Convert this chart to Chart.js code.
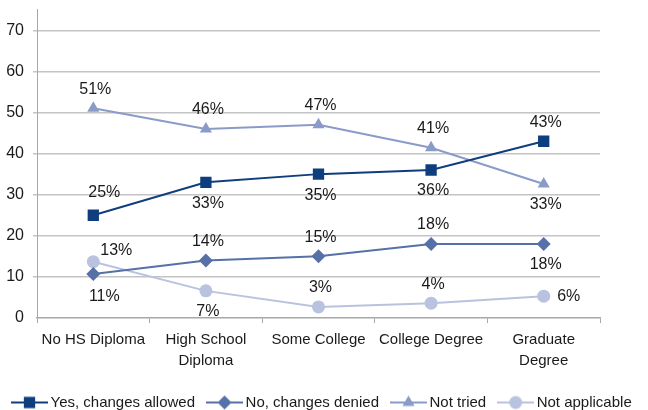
<!DOCTYPE html>
<html>
<head>
<meta charset="utf-8">
<script src="https://cdn.jsdelivr.net/npm/chart.js"></script>
<style>
  html, body { margin: 0; padding: 0; background: #fff; overflow: hidden; }
  #wrap { width: 648px; height: 410px; overflow: hidden; }
</style>
</head>
<body>
<div id="wrap"><canvas id="myChart" width="648" height="420"></canvas></div>
<script>
var categories = [['No HS Diploma'], ['High School', 'Diploma'], ['Some College'], ['College Degree'], ['Graduate', 'Degree']];
var seriesNames = ['Yes, changes allowed', 'No, changes denied', 'Not tried', 'Not applicable'];

var yesAllowed = [25, 33, 35, 36, 43];
var noDenied = [10.7, 14, 15, 18, 18];
var notTried = [51, 46, 47, 41.4, 32.6];
var notApplicable = [13.7, 6.6, 2.7, 3.6, 5.3];

var yesLabels = ['25%', '33%', '35%', '36%', '43%'];
var noLabels = ['11%', '14%', '15%', '18%', '18%'];
var triedLabels = ['51%', '46%', '47%', '41%', '33%'];
var naLabels = ['13%', '7%', '3%', '4%', '6%'];

var yTicks = [0, 10, 20, 30, 40, 50, 60, 70];

var colors = ['#0e3e7e', '#5671a7', '#8a9bc8', '#b9c3df'];
var styles = ['rect', 'rectRot', 'triangle', 'circle'];
var radii = [8, 7, 7, 6.5];

var FONT = "'Liberation Sans', Arial, sans-serif";

// where each value label sits relative to its point
var offsets = { n: [2, -19], s: [2, 21], nr: [11, -23], sr: [11, 23], ne: [23, -11], e: [25, 0] };

function makeIcon(i) {
  var c = document.createElement('canvas');
  c.width = 37; c.height = 16;
  var g = c.getContext('2d');
  g.strokeStyle = colors[i];
  g.fillStyle = colors[i];
  g.lineWidth = 2;
  g.beginPath(); g.moveTo(0, 8); g.lineTo(37, 8); g.stroke();
  var r = radii[i], cx = 18.5;
  g.beginPath();
  if (styles[i] === 'rect') {
    var s = r * Math.SQRT1_2;
    g.rect(cx - s, 8 - s, 2 * s, 2 * s);
  } else if (styles[i] === 'rectRot') {
    g.moveTo(cx, 8 - r); g.lineTo(cx + r, 8); g.lineTo(cx, 8 + r); g.lineTo(cx - r, 8);
  } else if (styles[i] === 'triangle') {
    g.moveTo(cx, 8 - r); g.lineTo(cx + r * 0.866, 8 + r * 0.5); g.lineTo(cx - r * 0.866, 8 + r * 0.5);
  } else {
    g.arc(cx, 8, r, 0, Math.PI * 2);
  }
  g.closePath(); g.fill();
  return c;
}
var legendIcons = [0, 1, 2, 3].map(makeIcon);

function makeSet(i, values, labels, place) {
  return {
    label: seriesNames[i],
    data: values,
    valueLabels: labels,
    labelPlace: place,
    borderColor: colors[i],
    backgroundColor: colors[i],
    borderWidth: 2,
    pointStyle: styles[i],
    pointRadius: radii[i],
    pointHoverRadius: radii[i],
    pointBorderWidth: 0,
    tension: 0
  };
}

var valueLabelPlugin = {
  id: 'valueLabels',
  afterDatasetsDraw: function(chart) {
    var ctx = chart.ctx;
    ctx.save();
    ctx.font = '16px ' + FONT;
    ctx.fillStyle = '#1a1a1a';
    ctx.textAlign = 'center';
    ctx.textBaseline = 'middle';
    chart.data.datasets.forEach(function(ds, di) {
      var meta = chart.getDatasetMeta(di);
      meta.data.forEach(function(pt, i) {
        var off = offsets[ds.labelPlace[i]];
        ctx.fillText(ds.valueLabels[i], pt.x + off[0], pt.y + off[1]);
      });
    });
    ctx.restore();
  }
};

var ctx = document.getElementById('myChart').getContext('2d');
var myChart = new Chart(ctx, {
  type: 'line',
  data: {
    labels: categories,
    datasets: [
      makeSet(0, yesAllowed, yesLabels, ['nr', 's', 's', 's', 'n']),
      makeSet(1, noDenied, noLabels, ['sr', 'n', 'n', 'n', 's']),
      makeSet(2, notTried, triedLabels, ['n', 'n', 'n', 'n', 's']),
      makeSet(3, notApplicable, naLabels, ['ne', 's', 'n', 'n', 'e'])
    ]
  },
  options: {
    responsive: false,
    animation: false,
    layout: { padding: { left: 0, right: 0, top: 9.7, bottom: 0 }, autoPadding: false },
    scales: {
      x: {
        offset: true,
        grid: { offset: true, drawOnChartArea: false, drawTicks: true, tickLength: 5, color: '#a8a8a8', lineWidth: 1 },
        border: { color: '#a8a8a8', width: 1.5 },
        ticks: { color: '#1a1a1a', font: { family: FONT, size: 15, lineHeight: 1.4 }, padding: 6, maxRotation: 0, autoSkip: false },
        afterFit: function(scale) { scale.height = 61; }
      },
      y: {
        min: 0,
        max: 75,
        afterBuildTicks: function(scale) {
          scale.ticks = yTicks.map(function(v) { return { value: v }; });
        },
        grid: {
          color: function(c) { return c.tick && c.tick.value === 0 ? 'rgba(0,0,0,0)' : '#c4c4c4'; },
          lineWidth: 1.5,
          tickLength: 4,
          drawTicks: true
        },
        border: { color: '#a8a8a8', width: 1 },
        ticks: { color: '#1a1a1a', font: { family: FONT, size: 16 }, padding: 9 },
        afterFit: function(scale) {
          scale.width = 37;
          scale.paddingTop = 0;
          scale.paddingBottom = 0;
        }
      },
      // empty right-hand gutter so the plot stops where the reference does
      gutter: {
        type: 'linear',
        position: 'right',
        display: true,
        grid: { display: false },
        border: { display: false },
        ticks: { display: false },
        afterFit: function(scale) { scale.width = 48; }
      }
    },
    plugins: {
      tooltip: { enabled: false },
      legend: {
        position: 'bottom',
        align: 'start',
        labels: {
          usePointStyle: true,
          pointStyleWidth: 27,
          padding: 16,
          color: '#1a1a1a',
          font: { family: FONT, size: 15 },
          generateLabels: function(chart) {
            var items = Chart.defaults.plugins.legend.labels.generateLabels(chart);
            items.forEach(function(it) { it.pointStyle = legendIcons[it.datasetIndex]; });
            return items;
          }
        }
      }
    }
  },
  plugins: [valueLabelPlugin]
});
</script>
</body>
</html>
